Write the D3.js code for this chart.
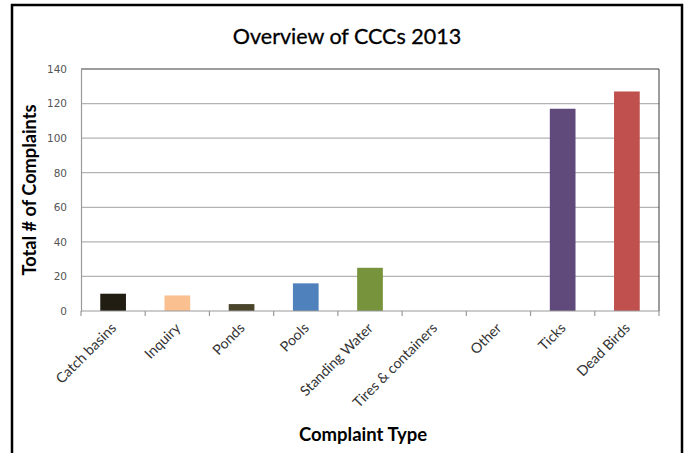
<!DOCTYPE html>
<html><head><meta charset="utf-8">
<script src="https://cdn.jsdelivr.net/npm/d3@7"></script>
<style>
html,body{margin:0;padding:0;background:#fff;}
svg{display:block;}
</style></head>
<body>
<svg id="chart" width="684" height="453"></svg>
<script>
const categories = ["Catch basins","Inquiry","Ponds","Pools","Standing Water","Tires & containers","Other","Ticks","Dead Birds"];
const values = [10, 9, 4, 16, 25, 0, 0, 117, 127];
const barColors = ["#211d12","#fac090","#4a452a","#4f81bd","#77933c","#9bbb59","#8064a2","#604a7b","#c0504d"];
const yTicks = [0,20,40,60,80,100,120,140];
const title = "Overview of CCCs 2013";
const yTitle = "Total # of Complaints";
const xTitle = "Complaint Type";

const svg = d3.select("#chart");
const font = "Lato, 'Open Sans', sans-serif";

// outer frame
svg.append("rect").attr("x",12).attr("y",5).attr("width",670).attr("height",460)
  .attr("fill","#fff").attr("stroke","#000").attr("stroke-width",2.5);

const m = {left:81, right:659, top:69, bottom:311};
const x = d3.scaleBand().domain(categories).range([m.left,m.right]).paddingInner(0.6).paddingOuter(0.3);
const xb = d3.scaleBand().domain(categories).range([m.left,m.right]);
const y = d3.scaleLinear().domain([0,140]).range([m.bottom,m.top]);

// gridlines
svg.append("g").selectAll("line").data(yTicks.filter(t=>t>0 && t<140)).join("line")
  .attr("x1",m.left).attr("x2",m.right).attr("y1",d=>y(d)).attr("y2",d=>y(d))
  .attr("stroke","#b3b3b3").attr("stroke-width",1.2);

// plot border top / right
svg.append("line").attr("x1",m.left).attr("x2",m.right).attr("y1",m.top).attr("y2",m.top).attr("stroke","#3a3a3a").attr("stroke-width",1);
svg.append("line").attr("x1",m.right).attr("x2",m.right).attr("y1",m.top).attr("y2",m.bottom).attr("stroke","#3a3a3a").attr("stroke-width",1);

// bars
svg.append("g").selectAll("rect").data(categories).join("rect")
  .attr("x",d=>x(d)).attr("width",x.bandwidth())
  .attr("y",(d,i)=>y(values[i])).attr("height",(d,i)=>y(0)-y(values[i]))
  .attr("fill",(d,i)=>barColors[i]);

// y axis
const yAxis = svg.append("g").attr("transform",`translate(${m.left},0)`)
  .call(d3.axisLeft(y).tickValues(yTicks).tickSize(0).tickPadding(14));
yAxis.select(".domain").attr("stroke","#9a9a9a").attr("stroke-width",1.2);
yAxis.selectAll("text").attr("font-family","'DejaVu Sans', sans-serif").attr("font-size",10.5).attr("fill","#555");

// x axis
const xg = svg.append("g").attr("transform",`translate(0,${m.bottom})`);
xg.append("line").attr("x1",m.left).attr("x2",m.right).attr("stroke","#9a9a9a").attr("stroke-width",1.2);
const bounds = categories.map(c=>xb(c)).concat([m.right]);
xg.selectAll("line.tk").data(bounds).join("line").attr("class","tk")
  .attr("x1",d=>d).attr("x2",d=>d).attr("y1",0).attr("y2",5).attr("stroke","#9a9a9a").attr("stroke-width",1.2);
xg.selectAll("text").data(categories).join("text")
  .attr("transform",d=>`translate(${xb(d)+xb.bandwidth()/2+4},${18}) rotate(-45)`)
  .attr("text-anchor","end").attr("font-family",font).attr("font-size",14.2).attr("fill","#333")
  .text(d=>d);

// titles
svg.append("text").attr("x",347).attr("y",44).attr("text-anchor","middle")
  .attr("font-family",font).attr("font-size",21.5).attr("fill","#000").attr("stroke","#000").attr("stroke-width",0.3).text(title);
svg.append("text").attr("transform","translate(36,190) rotate(-90)").attr("text-anchor","middle")
  .attr("font-family",font).attr("font-weight","bold").attr("font-size",18.2).attr("fill","#000").text(yTitle);
svg.append("text").attr("x",363).attr("y",441).attr("text-anchor","middle")
  .attr("font-family",font).attr("font-weight","bold").attr("font-size",18.5).attr("fill","#000").text(xTitle);
</script>
</body></html>
